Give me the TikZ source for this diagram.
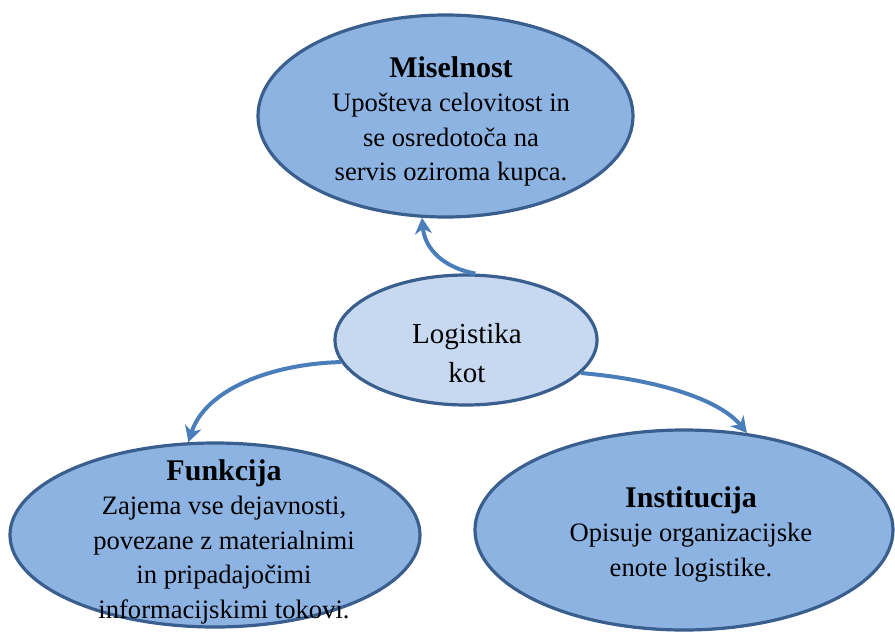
\documentclass[tikz,border=0pt]{standalone}
\usepackage{fontspec}
\setmainfont{Liberation Serif}
\usetikzlibrary{shapes.geometric,arrows.meta}
\definecolor{fillA}{HTML}{8DB3E2}
\definecolor{fillB}{HTML}{C6D9F1}
\definecolor{edgeC}{HTML}{3A5F8E}
\definecolor{arrC}{HTML}{4A7EBB}
\tikzset{
  oval/.style={ellipse, draw=edgeC, line width=3.2pt, fill=fillA, inner sep=0pt},
  txt/.style={align=center, inner sep=0pt, font=\fontsize{26.6}{34.5}\selectfont},
  conn/.style={draw=arrC, line width=4pt, -{Stealth[length=16pt,width=17pt,inset=5pt]}},
}
\newcommand{\hd}[1]{{\fontsize{30}{34.5}\selectfont\bfseries #1}}
\begin{document}
\begin{tikzpicture}[x=1pt,y=-1pt]
\useasboundingbox (0,0) rectangle (895,635);
\node[oval, minimum width=375pt, minimum height=202pt] (top) at (445.5,116) {};
\node[oval, minimum width=410pt, minimum height=184pt] (left) at (215,535) {};
\node[oval, minimum width=418pt, minimum height=200pt] (right) at (684,530) {};
\node[oval, fill=fillB, minimum width=262pt, minimum height=130pt] (c) at (466,340) {};

\node[txt] (ttop) at (451,121.5) {\hd{Miselnost}\\Upošteva celovitost in\\se osredotoča na\\servis oziroma kupca.};
\node[txt, font=\fontsize{29}{39}\selectfont] (tc) at (467,353) {Logistika\\kot};
\node[txt] (tleft) at (224,541.5) {\hd{Funkcija}\\Zajema vse dejavnosti,\\povezane z materialnimi\\in pripadajočimi\\informacijskimi tokovi.};
\node[txt] (tright) at (691,534) {\hd{Institucija}\\Opisuje organizacijske\\enote logistike.};

\draw[conn] (c.82) .. controls (445,268) and (425,250) .. (top.257);
\draw[conn] (c.190) .. controls (270,364) and (205,390) .. (left.106);
\draw[conn] (c.344) .. controls (660,380) and (720,400) .. (right.57);
\end{tikzpicture}
\end{document}
